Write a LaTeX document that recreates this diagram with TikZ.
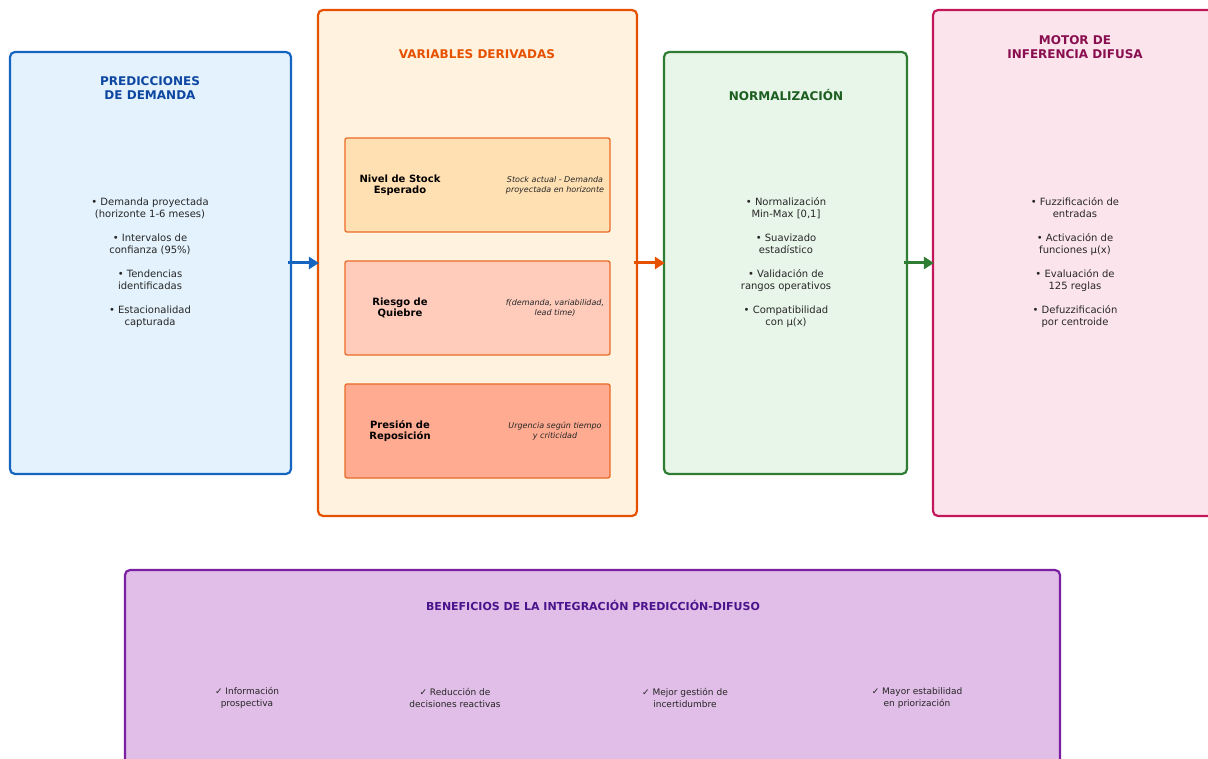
\documentclass[tikz,border=0pt]{standalone}
\usepackage{fontspec}
\setmainfont{DejaVu Sans}
\usetikzlibrary{arrows.meta}

\definecolor{azulB}{HTML}{1565C0}
\definecolor{azulF}{HTML}{E3F2FD}
\definecolor{azulT}{HTML}{0D47A1}
\definecolor{naranjaB}{HTML}{E65100}
\definecolor{naranjaF}{HTML}{FFF3E0}
\definecolor{subA}{HTML}{FFE0B2}
\definecolor{subB}{HTML}{FFCCBC}
\definecolor{subC}{HTML}{FFAB91}
\definecolor{verdeB}{HTML}{2E7D32}
\definecolor{verdeF}{HTML}{E8F5E9}
\definecolor{verdeT}{HTML}{1B5E20}
\definecolor{rosaB}{HTML}{C2185B}
\definecolor{rosaF}{HTML}{FCE4EC}
\definecolor{rosaT}{HTML}{880E4F}
\definecolor{moradoB}{HTML}{7B1FA2}
\definecolor{moradoF}{HTML}{E1BEE7}
\definecolor{moradoT}{HTML}{4A148C}

\begin{document}
\begin{tikzpicture}[x=1pt,y=-1pt,
    titulo/.style={font=\fontsize{12}{14.5}\selectfont\bfseries,align=center},
    lista/.style={font=\fontsize{10}{12}\selectfont,align=center,text=black!85},
    etiqueta/.style={font=\fontsize{10}{11.5}\selectfont\bfseries,align=center},
    formula/.style={font=\fontsize{8}{9.6}\selectfont\itshape,align=center,text=black!85},
    beneficio/.style={font=\fontsize{9}{11.5}\selectfont,align=center,text=black!85}]
    \useasboundingbox (0,0) rectangle (1208,759);
    \clip (0,0) rectangle (1208,759);
    \begin{scope}[every node/.style={draw,rounded corners=5pt,line width=2.2pt}]
        \node[draw=azulB,fill=azulF,minimum width=281pt,minimum height=422pt] (pred) at (150.5,263) {};
        \node[draw=naranjaB,fill=naranjaF,minimum width=319pt,minimum height=506pt] (vars) at (477.5,263) {};
        \node[draw=verdeB,fill=verdeF,minimum width=243pt,minimum height=422pt] (norm) at (785.5,263) {};
        \node[draw=rosaB,fill=rosaF,minimum width=284pt,minimum height=506pt] (motor) at (1075,263) {};
        \node[draw=moradoB,fill=moradoF,minimum width=935pt,minimum height=230pt] (benef) at (592.5,685) {};
    \end{scope}
    \begin{scope}[every node/.style={draw=naranjaB!85,line width=1.3pt,rounded corners=2pt,minimum width=265pt,minimum height=94pt}]
        \node[fill=subA] (nivel) at (477.5,185) {};
        \node[fill=subB] (riesgo) at (477.5,308) {};
        \node[fill=subC] (presion) at (477.5,431) {};
    \end{scope}
    % titulos
    \node[titulo,text=azulT] (predT) at (150,88) {PREDICCIONES\\DE DEMANDA};
    \node[titulo,text=naranjaB] (varsT) at (477,54) {VARIABLES DERIVADAS};
    \node[titulo,text=verdeT] (normT) at (786,95) {NORMALIZACIÓN};
    \node[titulo,text=rosaT] (motorT) at (1075,47) {MOTOR DE\\INFERENCIA DIFUSA};
    \node[titulo,font=\fontsize{11}{13}\selectfont\bfseries,text=moradoT] (benefT) at (593,605) {BENEFICIOS DE LA INTEGRACIÓN PREDICCIÓN-DIFUSO};
    % listas
    \node[lista] (predL) at (150,262.5) {• Demanda proyectada\\(horizonte 1-6 meses)\\[12pt]• Intervalos de\\confianza (95\%)\\[12pt]• Tendencias\\identificadas\\[12pt]• Estacionalidad\\capturada};
    \node[lista] (normL) at (786,262.5) {• Normalización\\Min-Max [0,1]\\[12pt]• Suavizado\\estadístico\\[12pt]• Validación de\\rangos operativos\\[12pt]• Compatibilidad\\con μ(x)};
    \node[lista] (motorL) at (1075,262.5) {• Fuzzificación de\\entradas\\[12pt]• Activación de\\funciones μ(x)\\[12pt]• Evaluación de\\125 reglas\\[12pt]• Defuzzificación\\por centroide};
    % variables derivadas
    \node[etiqueta] (nivelL) at (400,185) {Nivel de Stock\\Esperado};
    \node[formula] (nivelF) at (555,185) {Stock actual - Demanda\\proyectada en horizonte};
    \node[etiqueta] (riesgoL) at (400,308) {Riesgo de\\Quiebre};
    \node[formula] (riesgoF) at (555,308) {f(demanda, variabilidad,\\lead time)};
    \node[etiqueta] (presionL) at (400,431) {Presión de\\Reposición};
    \node[formula] (presionF) at (555,431) {Urgencia según tiempo\\y criticidad};
    % beneficios
    \node[beneficio] (b1) at (247,698) {✓ Información\\prospectiva};
    \node[beneficio] (b2) at (455,698) {✓ Reducción de\\decisiones reactivas};
    \node[beneficio] (b3) at (685,698) {✓ Mejor gestión de\\incertidumbre};
    \node[beneficio] (b4) at (917,698) {✓ Mayor estabilidad\\en priorización};
    \begin{scope}[every edge/.style={draw,line width=3pt,-{Triangle[length=10pt,width=12pt]},shorten <=-4pt,shorten >=-2pt}]
        \path
            (pred) edge [azulB] (vars)
            (vars) edge [naranjaB] (norm)
            (norm) edge [verdeB] (motor);
    \end{scope}
\end{tikzpicture}
\end{document}
